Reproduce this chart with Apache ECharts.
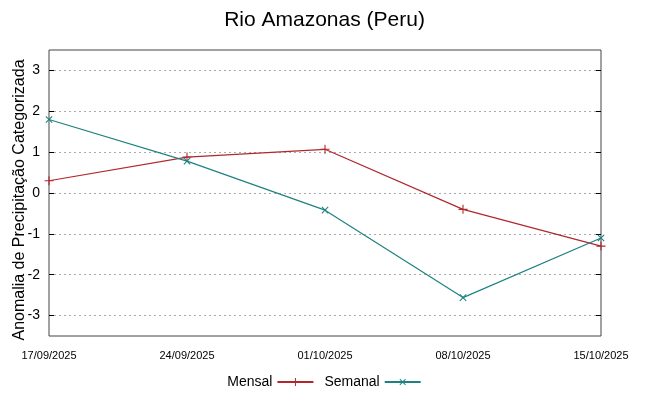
<!DOCTYPE html>
<html><head><meta charset="utf-8">
<script src="https://cdn.jsdelivr.net/npm/echarts@6/dist/echarts.min.js"></script>
<style>html,body{margin:0;padding:0;background:#fff}#c{width:649px;height:396px}</style>
</head><body><div id="c"></div>
<script>
const categories = ['17/09/2025','24/09/2025','01/10/2025','08/10/2025','15/10/2025'];
const mensal = [0.30, 0.88, 1.07, -0.40, -1.30];
const semanal = [1.80, 0.78, -0.42, -2.56, -1.10];
const yTicks = [-3,-2,-1,0,1,2,3];

const plusPath = 'path://M0,4.4L10,4.4L10,5.6L0,5.6Z M4.4,0L5.6,0L5.6,10L4.4,10Z';
const chart = echarts.init(document.getElementById('c'));
const fontMain = 'Liberation Sans, Arial, sans-serif';
chart.setOption({
  animation:false,
  title:{text:'Rio Amazonas (Peru)', left:'center', top:5,
    textStyle:{fontFamily:fontMain, fontSize:21, fontWeight:'normal', color:'#000'}},
  grid:{left:49, right:48, top:50, bottom:60, show:true, borderColor:'#444', borderWidth:1,
    containLabel:false, outerBoundsMode:'none'},
  legend:{bottom:2, left:'center', align:'right', itemWidth:36, itemHeight:10, itemGap:10,
    textStyle:{fontFamily:fontMain, fontSize:14, color:'#000'},
    data:['Mensal','Semanal']},
  xAxis:{type:'category', data:categories, boundaryGap:false,
    axisLine:{show:false}, axisTick:{show:false},
    axisLabel:{fontFamily:"'Liberation Sans Narrow', 'Arial Narrow', 'Liberation Sans', Arial", fontSize:11, color:'#000', margin:14, interval:0},
    splitLine:{show:false}},
  yAxis:[{type:'value', min:-3.5, max:3.5,
    name:'Anomalia de Precipitação Categorizada', nameLocation:'middle', nameGap:21, nameRotate:90,
    nameMoveOverlap:false,
    nameTextStyle:{fontFamily:fontMain, fontSize:16, color:'#000', padding:[0,14,0,0]},
    axisLine:{show:false},
    axisTick:{show:true, inside:true, length:5, customValues:yTicks, lineStyle:{color:'#000'}},
    axisLabel:{fontFamily:fontMain, fontSize:14, color:'#000', margin:9, customValues:yTicks},
    splitLine:{show:true, lineStyle:{color:'#aaa', type:[2,3], width:1}}},
    {type:'value', min:-3.5, max:3.5, position:'right',
    axisLine:{show:false},
    axisTick:{show:true, inside:true, length:5, customValues:yTicks, lineStyle:{color:'#000'}},
    axisLabel:{show:false, customValues:yTicks}, splitLine:{show:false}}],
  series:[
    {name:'Mensal', type:'line', data:mensal, symbol:plusPath, symbolSize:9,
      lineStyle:{color:'#b0282c', width:1.2}, itemStyle:{color:'#b0282c'}},
    {name:'Semanal', type:'line', data:semanal, symbol:plusPath, symbolSize:9, symbolRotate:45,
      lineStyle:{color:'#1f8282', width:1.2}, itemStyle:{color:'#1f8282'}}
  ]
});
</script></body></html>
